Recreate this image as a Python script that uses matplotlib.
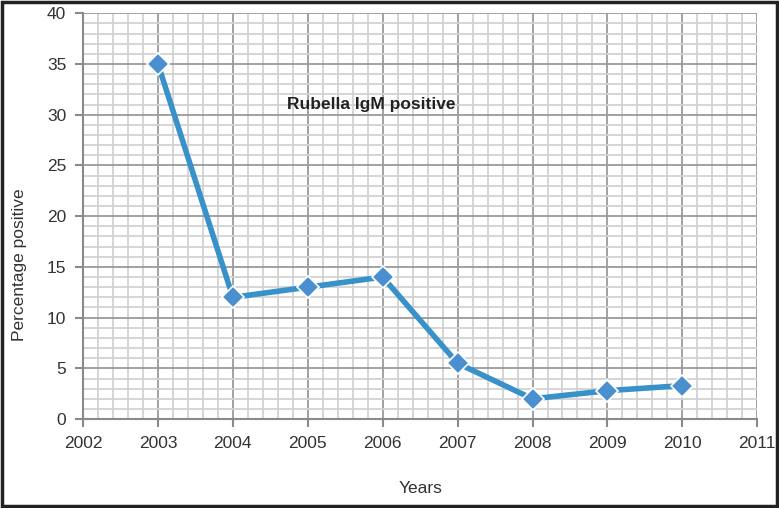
import numpy as np
import matplotlib
matplotlib.use("Agg")
import matplotlib.pyplot as plt
from matplotlib.ticker import MultipleLocator

plt.rcParams['font.family'] = ['Liberation Sans', 'DejaVu Sans']

years = [2003, 2004, 2005, 2006, 2007, 2008, 2009, 2010]
pct_pos = [35, 12, 13, 14, 5.5, 2, 2.8, 3.3]

fig = plt.figure(figsize=(7.79, 5.08), dpi=100)
ax = fig.add_axes([0.1066, 0.175, 0.8655, 0.799])

ax.set_xlim(2002, 2011)
ax.set_ylim(0, 40)
ax.xaxis.set_major_locator(MultipleLocator(1))
ax.xaxis.set_minor_locator(MultipleLocator(0.2))
ax.yaxis.set_major_locator(MultipleLocator(5))
ax.yaxis.set_minor_locator(MultipleLocator(1))

ax.grid(which='minor', color='#d2d2d2', lw=1.3)
ax.grid(which='major', color='#9a9a9a', lw=1.3)
ax.set_axisbelow(True)

for s in ['top', 'right']:
    ax.spines[s].set_visible(False)
for s in ['left', 'bottom']:
    ax.spines[s].set_color('#8a8a8a')
    ax.spines[s].set_linewidth(1.5)
ax.tick_params(which='major', direction='out', length=6, width=1.5, color='#8a8a8a',
               labelsize=12.5, labelcolor='#333333', pad=6)
ax.tick_params(which='minor', length=0)

ax.plot(years, pct_pos, color='#3891c9', lw=4, marker='D', ms=11,
        mfc='#4a8fcf', mec='white', mew=1.2, zorder=3)

ax.text(2005.85, 31.0, 'Rubella IgM positive', fontsize=12.5, fontweight='bold',
        color='#222222', ha='center', va='center')

ax.set_xlabel('Years', fontsize=12.5, color='#333333', labelpad=22)
ax.set_ylabel('Percentage positive', fontsize=12.5, color='#333333', labelpad=10)
ax.yaxis.set_label_coords(-0.083, 0.38)

# dark frame round the figure
fig.patches.append(plt.Rectangle((0.002, 0.003), 0.996, 0.994, transform=fig.transFigure,
                                 fill=False, ec='#222222', lw=2.5))

fig.savefig('out.png', dpi=100)
